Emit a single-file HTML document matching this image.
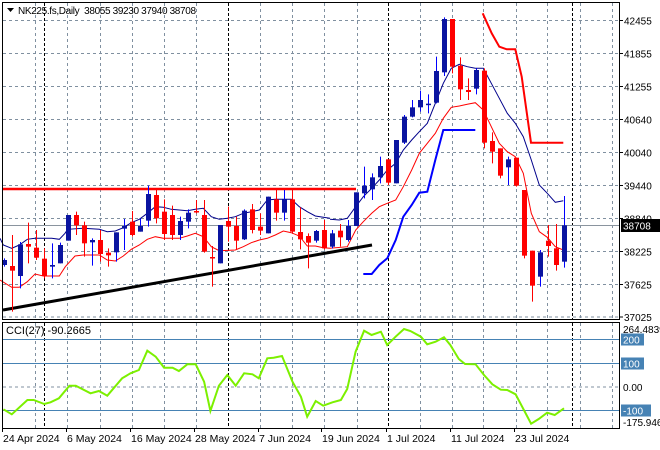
<!DOCTYPE html>
<html><head><meta charset="utf-8"><style>
html,body{margin:0;padding:0;background:#fff;}
svg{display:block;font-family:"Liberation Sans",sans-serif;}
</style></head><body>
<svg id="s" width="660" height="450" xmlns="http://www.w3.org/2000/svg"></svg>
<script>
const S=document.getElementById('s');let h='';
const gx=[35,67,100,132,164,196,260,292,324,357,420,452,483,516,547,580,612];
const bx=[44,228,388,572];
const gy=[20.5,53.5,86.5,119.5,152.5,185.5,218.5,251.5,284.5,317];
const gl=['42455','41855','41255','40640','40040','39440','38840','38225','37625','37025'];
gx.forEach(x=>{h+=`<line x1="${x}.5" y1="3" x2="${x}.5" y2="319" stroke="#8090a0" stroke-dasharray="3,3"/>`;h+=`<line x1="${x}.5" y1="323" x2="${x}.5" y2="428" stroke="#8090a0" stroke-dasharray="3,3"/>`;});
bx.forEach(x=>{h+=`<line x1="${x}.5" y1="3" x2="${x}.5" y2="319" stroke="#000" stroke-dasharray="3,2"/>`;h+=`<line x1="${x}.5" y1="323" x2="${x}.5" y2="428" stroke="#000" stroke-dasharray="3,2"/>`;});
gy.forEach((y,i)=>{h+=`<line x1="3" y1="${y}" x2="619" y2="${y}" stroke="#8090a0" stroke-dasharray="3,3"/>`;h+=`<line x1="619" y1="${y}" x2="623" y2="${y}" stroke="#000"/><text x="624" y="${y+4}" font-size="10">${gl[i]}</text>`;});
h+=`<line x1="3" y1="225.5" x2="619" y2="225.5" stroke="#8a949e"/>`;
h+=`<line x1="3" y1="189" x2="356" y2="189" stroke="#f00" stroke-width="2.5"/>`;
h+=`<line x1="3" y1="310" x2="372" y2="245" stroke="#000" stroke-width="3"/>`;
function pl(pts,ox,sx,oy,sy,col,w){return `<polyline fill="none" stroke="${col}" stroke-width="${w}" points="${pts.map(p=>(ox+p[0]*sx).toFixed(1)+','+(oy+p[1]*sy).toFixed(1)).join(' ')}"/>`;}
const nv1=[[0,715],[10,735],[35,745],[58,735],[82,718],[105,715],[155,715],[178,718],[195,700],[203,688],[250,685],[298,688],[322,695],[346,693],[370,683],[394,668],[418,658],[442,640],[466,620],[490,622],[514,628],[538,630],[562,632],[586,628],[610,625],[634,650],[658,658],[682,655],[706,650],[730,640],[754,635],[778,630],[802,600],[826,598],[850,598],[874,598],[898,620],[922,635],[946,648],[970,652],[990,655]];
const nv2=[[0,658],[28,660],[52,655],[77,620],[100,590],[125,565],[148,540],[172,510],[197,490],[220,450],[245,420],[268,395],[292,370],[316,310],[340,250],[364,205],[388,193],[412,200],[436,205],[460,205],[484,250],[508,295],[532,340],[556,370],[580,410],[604,480],[628,555],[652,580],[676,607],[700,602]];
const rd1=[[0,840],[35,862],[58,862],[82,845],[105,822],[130,828],[178,828],[196,800],[225,768],[250,765],[298,765],[322,780],[346,783],[370,768],[394,748],[418,735],[442,718],[466,710],[490,715],[538,715],[562,708],[586,700],[610,710],[634,740],[658,752],[706,750],[730,740],[754,728],[778,720],[802,715],[826,705],[850,693],[874,698],[898,708],[922,738],[946,738],[970,743],[990,745]];
const rd2=[[0,745],[52,740],[77,690],[100,665],[125,640],[148,620],[172,610],[197,600],[220,560],[245,510],[268,460],[292,430],[316,400],[340,355],[364,322],[388,318],[412,313],[436,308],[460,330],[484,380],[508,430],[532,455],[556,470],[580,520],[604,640],[628,695],[652,712],[676,740],[700,750]];
h+=pl(nv1,0,1/3,0,1/3,'#00008b',1)+pl(nv2,330,1/3,0,1/3,'#00008b',1);
h+=pl(rd1,0,1/3,0,1/3,'#f00',1)+pl(rd2,330,1/3,0,1/3,'#f00',1);
h+=pl([[100,822],[125,822],[148,795],[172,775],[197,720],[220,650],[245,615],[268,578],[292,575],[316,480],[340,390],[436,390]],330,1/3,0,1/3,'#0000ff',2);
h+=pl([[458,40],[485,100],[508,140],[530,148],[556,148],[575,230],[603,428],[700,428]],330,1/3,0,1/3,'#f00',2);
const C=[['b',775,780,795,800],['r',705,798,812,935],['b',726,733,828,865],['r',668,732,740,790],['r',690,743,773,780],['r',745,776,828,835],['b',730,795,800,835],['b',728,735,790,790],['b',645,645,722,722],['r',635,645,676,705],['r',665,676,730,770],['b',715,720,727,797],['r',690,720,762,785],['r',745,758,766,800],['b',697,697,757,785],['b',657,678,686,750],['r',633,665,705,710],['b',655,678,695,695],['b',557,582,662,680],['r',567,585,655,670],['r',598,635,702,720],['r',617,645,705,720],['b',650,663,705,720],['b',628,638,665,685],['r',600,633,637,640],['r',600,645,755,758],['r',738,771,773,860],['b',675,675,790,790],['r',620,663,680,725],['r',650,678,722,748],['b',628,632,718,720],['r',612,628,690,700],['r',640,680,692,705],['b',590,590,700,700],['r',568,598,638,662],['b',570,598,638,662],['r',570,598,695,700],['r',622,696,718,748],['r',700,708,728,805],['b',690,693,722,728],['r',660,690,745,748],
['b',690,700,740,745],['r',672,692,712,740],['b',660,678,720,725],['b',577,577,678,678],['b',500,557,580,595],['b',520,532,568,600],['b',470,498,532,550],['r',478,478,548,555],['b',420,420,550,550],['b',345,350,428,432],['b',300,322,350,352],['b',272,300,322,335],['b',283,311,313,340],['b',170,213,308,310],['b',52,57,217,228],['r',57,57,200,220],['r',172,197,268,300],['r',235,270,276,300],['b',205,210,266,283],['r',205,212,428,445],['r',397,423,455,490],['r',445,445,527,535],['b',470,478,502,555],['r',473,473,557,560],['r',570,570,767,775],['r',752,752,857,905],['b',750,757,830,860],['r',675,722,738,770],['r',672,745,795,812],['b',588,676,785,803]];
C.forEach((c,k)=>{const x=4+8*k;const col=c[0]=='b'?'#0a14a0':'#f00';const wc=c[0]=='b'?'#0000ff':'#f00';
const a=c[1]/3,b=c[2]/3,d=Math.max(c[3]/3,b+1.5),e=c[4]/3;
h+=`<line x1="${x+.5}" y1="${a}" x2="${x+.5}" y2="${e}" stroke="${wc}"/>`;
h+=`<rect x="${x-2}" y="${b}" width="5" height="${d-b}" fill="${col}"/>`;});
h+=`<rect x="621" y="219" width="39" height="13" fill="#000"/><text x="623" y="229.5" font-size="10" fill="#fff">38708</text>`;
h+=`<rect x="2.5" y="2.5" width="617" height="317" fill="none" stroke="#000"/>`;
h+=`<rect x="2.5" y="322.5" width="617" height="106" fill="none" stroke="#000"/>`;
h+=`<polygon points="7,8 14,8 10.5,12" fill="#000"/><text x="18" y="14" font-size="10" textLength="178" lengthAdjust="spacing" xml:space="preserve">NK225.fs,Daily  38055 39230 37940 38708</text>`;
[[339.5,'200'],[363.5,'100'],[410.5,'-100']].forEach(l=>{h+=`<line x1="3" y1="${l[0]}" x2="619" y2="${l[0]}" stroke="#4682b4"/><rect x="621" y="${l[0]-6}" width="${l[1].length*7+2}" height="12" fill="#4682b4"/><text x="623" y="${l[0]+4}" font-size="10" fill="#fff">${l[1]}</text>`;});
h+=`<line x1="3" y1="387" x2="619" y2="387" stroke="#8090a0" stroke-dasharray="3,3"/><text x="623" y="391" font-size="10">0.00</text>`;
h+=`<text x="623" y="333" font-size="10">264.4839</text><text x="623" y="426" font-size="10">-175.946</text>`;
const cc=[[8,283],[28,298],[65,255],[80,255],[105,267],[120,262],[140,250],[165,212],[180,212],[215,235],[235,228],[255,242],[290,190],[310,175],[330,165],[350,107],[370,125],[390,158],[410,158],[425,168],[445,148],[465,148],[485,200],[500,288],[520,212],[540,180],[560,212],[580,175],[600,178],[615,190],[635,130],[650,128],[670,123],[695,200],[715,245],[730,305],[750,258],[768,272],[790,262],[810,255],[825,222],[845,110],[865,47],[883,60],[905,50],[920,90],[940,65],[960,42],[975,48],[1000,65],[1015,88],[1035,80],[1055,67],[1070,90],[1090,132],[1105,147],[1130,148],[1150,180],[1170,208],[1190,224],[1205,225],[1225,238],[1262,326],[1280,312],[1300,293],[1318,300],[1340,280]];
h+=pl(cc,0,1/2.376,315,1/3,'#7cf000',2);
h+=`<text x="6" y="334" font-size="11">CCI(27) -90.2665</text>`;
[[2,'24 Apr 2024'],[66,'6 May 2024'],[130,'16 May 2024'],[194,'28 May 2024'],[258,'7 Jun 2024'],[321,'19 Jun 2024'],[386,'1 Jul 2024'],[450,'11 Jul 2024'],[514,'23 Jul 2024']].forEach(d=>{h+=`<line x1="${d[0]+.5}" y1="428" x2="${d[0]+.5}" y2="432" stroke="#000"/><text x="${d[0]+1}" y="442" font-size="10.5">${d[1]}</text>`;});
S.innerHTML=h;
</script>
</body></html>
